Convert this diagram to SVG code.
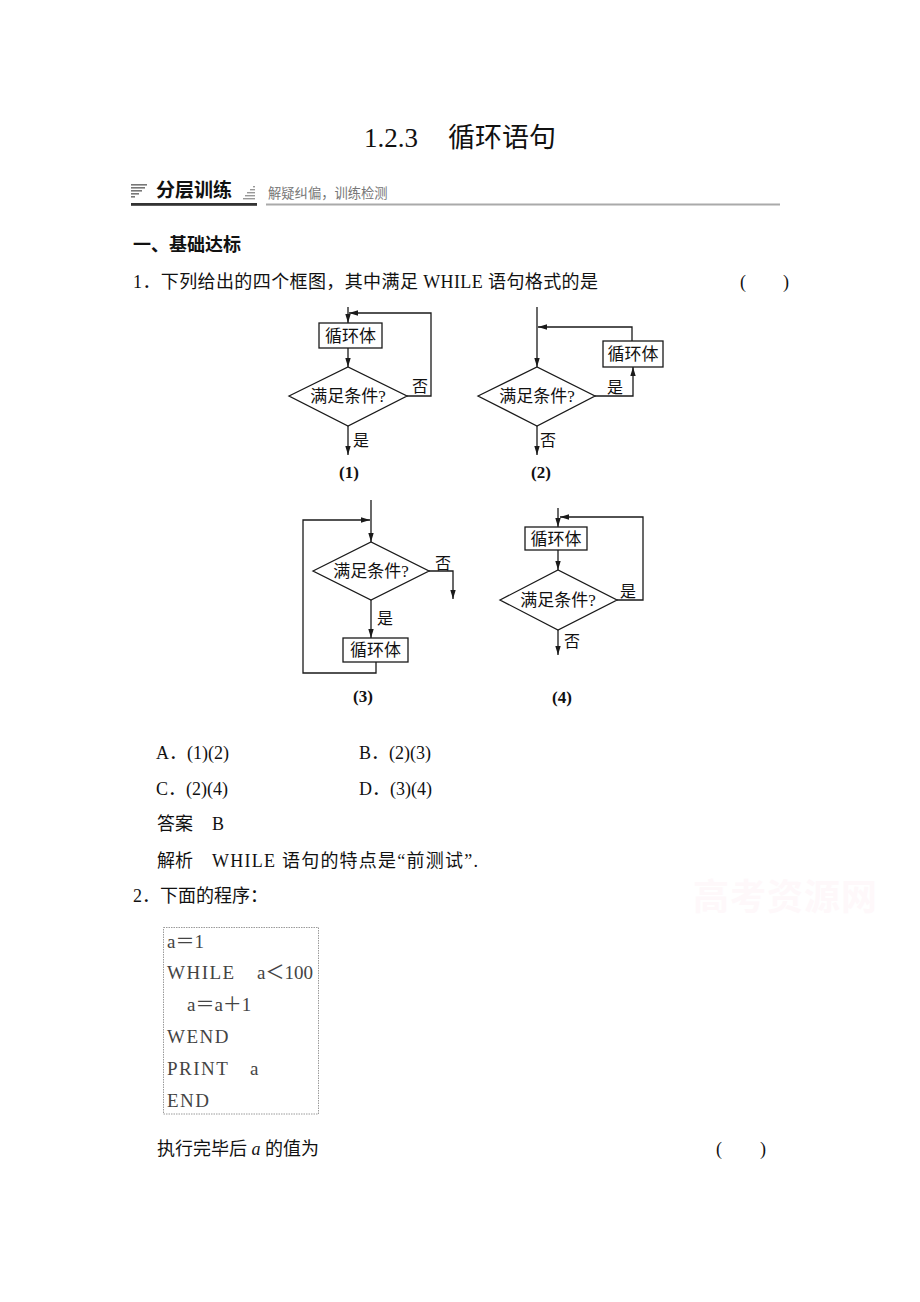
<svg xmlns="http://www.w3.org/2000/svg" width="920" height="1302" viewBox="0 0 920 1302">
<defs>
<style>
.t{font-family:"Liberation Serif","Noto Sans CJK SC",serif;fill:#111;}
.s{font-family:"Noto Sans CJK SC","Liberation Sans",sans-serif;}
.b18{font-size:18px;}
.fc{font-family:"Liberation Serif","Noto Sans CJK SC",serif;font-size:17px;fill:#111;}
.lb{font-family:"Noto Sans CJK SC","Liberation Serif",serif;font-size:16px;fill:#111;}
.cap{font-family:"Liberation Serif",serif;font-size:17px;font-weight:bold;fill:#111;text-anchor:middle;}
.ar{fill:none;stroke:#1a1a1a;stroke-width:1.3;marker-end:url(#ah);}
.shape{fill:#fff;stroke:#1a1a1a;stroke-width:1.3;}
.code{font-family:"Liberation Serif","Noto Sans CJK SC",serif;font-size:19px;fill:#444;}
</style>
<marker id="ah" viewBox="0 0 10 6" refX="10" refY="3" markerWidth="9" markerHeight="5.5" markerUnits="userSpaceOnUse" orient="auto">
<path d="M0,0 L10,3 L0,6 Z" fill="#1a1a1a"/>
</marker>
</defs>
<rect width="920" height="1302" fill="#fff"/>

<!-- Title -->
<g id="title">
<text class="t" x="364" y="147" font-size="27">1.2.3</text>
<text class="t" x="448" y="147" font-size="27">循环语句</text>
</g>

<!-- Header bar -->
<g id="header">
<g fill="#777">
<rect x="131" y="184" width="16" height="1.6"/>
<rect x="131" y="187" width="14" height="1.6"/>
<rect x="131" y="190" width="11" height="1.6"/>
<rect x="131" y="193" width="8" height="1.6"/>
<rect x="131" y="196" width="4" height="1.6"/>
</g>
<text class="s" x="156" y="197" font-size="19" font-weight="bold" fill="#111">分层训练</text>
<g fill="#999">
<rect x="253" y="186" width="2" height="1.4"/>
<rect x="250" y="189" width="5" height="1.4"/>
<rect x="247" y="192" width="8" height="1.4"/>
<rect x="245" y="195" width="10" height="1.4"/>
<rect x="243" y="198" width="12" height="1.4"/>
</g>
<text class="s" x="268" y="198" font-size="13.3" fill="#777">解疑纠偏，训练检测</text>
<rect x="131" y="203" width="126" height="2.8" fill="#333"/>
<rect x="266" y="203.5" width="514" height="2" fill="#aaa"/>
</g>

<!-- Section text -->
<g id="q1text">
<text class="s" x="133" y="251" font-size="18" font-weight="bold" fill="#111">一、基础达标</text>
<text class="t b18" x="133" y="288" textLength="465" lengthAdjust="spacing">1．下列给出的四个框图，其中满足 WHILE 语句格式的是</text>
<text class="t b18" x="740" y="288">(</text>
<text class="t b18" x="783" y="288">)</text>
</g>

<!-- Flowchart 1 -->
<g id="fc1">
<g id="fc1-box"><rect class="shape" x="319" y="323" width="63" height="25"/><text class="fc" x="350.5" y="341.5" text-anchor="middle">循环体</text></g>
<g id="fc1-dec"><polygon class="shape" points="289,396 348,367 407,396 348,426"/><text class="fc" x="348" y="402" text-anchor="middle">满足条件?</text></g>
<text class="lb" x="412" y="392">否</text>
<text class="lb" x="353" y="446">是</text>
<text class="cap" x="349" y="478">(1)</text>
</g>

<!-- Flowchart 2 -->
<g id="fc2">
<g id="fc2-box"><rect class="shape" x="603" y="341" width="60" height="26"/><text class="fc" x="633" y="360" text-anchor="middle">循环体</text></g>
<g id="fc2-dec"><polygon class="shape" points="478,396 537,367 595,396 537,426"/><text class="fc" x="537" y="402" text-anchor="middle">满足条件?</text></g>
<text class="lb" x="607" y="393">是</text>
<text class="lb" x="540" y="446">否</text>
<text class="cap" x="541" y="478">(2)</text>
</g>

<!-- Flowchart 3 -->
<g id="fc3">
<g id="fc3-dec"><polygon class="shape" points="313,571 371,542 429,571 371,600"/><text class="fc" x="371" y="577" text-anchor="middle">满足条件?</text></g>
<g id="fc3-box"><rect class="shape" x="343" y="638" width="65" height="24"/><text class="fc" x="375.5" y="656" text-anchor="middle">循环体</text></g>
<text class="lb" x="435" y="569">否</text>
<text class="lb" x="377" y="624">是</text>
<text class="cap" x="363" y="702">(3)</text>
</g>

<!-- Flowchart 4 -->
<g id="fc4">
<g id="fc4-box"><rect class="shape" x="525" y="527" width="62" height="23"/><text class="fc" x="556" y="544.5" text-anchor="middle">循环体</text></g>
<g id="fc4-dec"><polygon class="shape" points="500,600 558,570 617,600 558,630"/><text class="fc" x="558" y="606" text-anchor="middle">满足条件?</text></g>
<text class="lb" x="620" y="597">是</text>
<text class="lb" x="564" y="647">否</text>
<text class="cap" x="562" y="703">(4)</text>
</g>

<!-- Connectors -->
<g id="connectors">
<path class="ar" d="M348,307 V323"/>
<path class="ar" d="M407,396 H431 V313 H349"/>
<path class="ar" d="M348,348 V367"/>
<path class="ar" d="M348,426 V455"/>
<path class="ar" d="M537,307 V367"/>
<path class="ar" d="M632,341 V327 H538"/>
<path class="ar" d="M595,396 H633 V367"/>
<path class="ar" d="M537,426 V455"/>
<path class="ar" d="M371,500 V542"/>
<path class="ar" d="M376,662 V673 H303 V520 H370"/>
<path class="ar" d="M429,571 H453 V599"/>
<path class="ar" d="M371,600 V638"/>
<path class="ar" d="M558,508 V527"/>
<path class="ar" d="M558,550 V570"/>
<path class="ar" d="M617,600 H643 V517 H560"/>
<path class="ar" d="M558,630 V655"/>
</g>

<!-- Options and answer -->
<g id="answers">
<text class="t b18" x="156" y="759">A．(1)(2)</text>
<text class="t b18" x="359" y="759">B．(2)(3)</text>
<text class="t b18" x="156" y="795">C．(2)(4)</text>
<text class="t b18" x="359" y="795">D．(3)(4)</text>
<text class="t b18" x="157" y="830">答案</text>
<text class="t b18" x="212" y="830">B</text>
<text class="t b18" x="157" y="867">解析</text>
<text class="t b18" x="212" y="867" textLength="266" lengthAdjust="spacing">WHILE 语句的特点是“前测试”.</text>
<text class="t b18" x="133" y="902">2．下面的程序：</text>
</g>

<!-- Watermark -->
<text class="s" x="693" y="910" font-size="36" font-weight="bold" fill="#fef8fa" letter-spacing="1">高考资源网</text>

<!-- Code box -->
<g id="code">
<rect x="163.5" y="927.5" width="155" height="186.5" fill="#fff" stroke="#9a9a9a" stroke-width="1" stroke-dasharray="1.5 1"/>
<text class="code" x="167" y="948">a＝1</text>
<text class="code" x="167" y="979" letter-spacing="1.5">WHILE</text>
<text class="code" x="257" y="979">a＜100</text>
<text class="code" x="187" y="1011">a＝a＋1</text>
<text class="code" x="167" y="1043" letter-spacing="1.5">WEND</text>
<text class="code" x="167" y="1075" letter-spacing="1.5">PRINT</text>
<text class="code" x="250" y="1075">a</text>
<text class="code" x="167" y="1107" letter-spacing="1.5">END</text>
</g>

<!-- Last line -->
<g id="q2text">
<text class="t b18" x="157" y="1155">执行完毕后 <tspan font-style="italic">a</tspan> 的值为</text>
<text class="t b18" x="716" y="1155">(</text>
<text class="t b18" x="760" y="1155">)</text>
</g>
</svg>
